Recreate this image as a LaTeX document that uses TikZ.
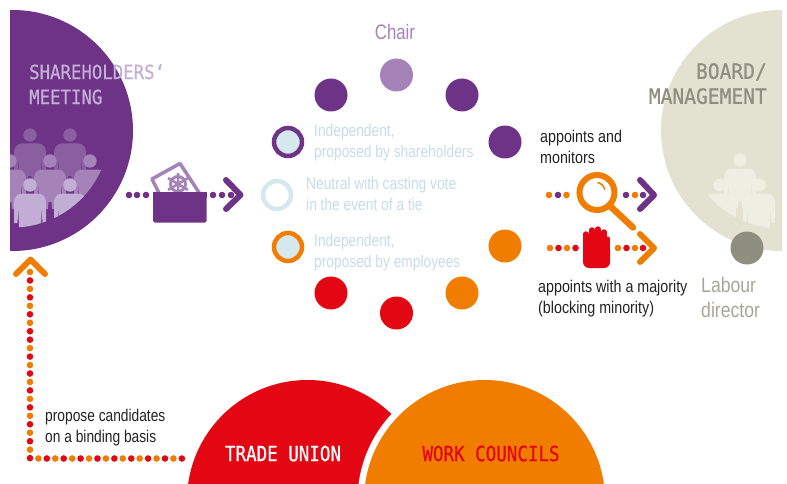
\documentclass[tikz,border=0pt]{standalone}
\usepackage{fontspec}
\setmainfont{Liberation Sans}
\newfontfamily\cond[FakeStretch=0.81]{Liberation Sans}
\newfontfamily\condb[FakeStretch=0.84]{Liberation Sans}
\newfontfamily\condc[FakeStretch=0.80]{Liberation Sans}
\newfontfamily\condd[FakeStretch=0.84]{Liberation Sans}
\newfontfamily\head[FakeStretch=0.89,FakeBold=0.7]{DejaVu Sans Mono}
\newfontfamily\heada[FakeStretch=0.834,FakeBold=0.7]{DejaVu Sans Mono}
\newfontfamily\headb[FakeStretch=0.933,FakeBold=0.7]{DejaVu Sans Mono}
\definecolor{pur}{HTML}{6E3386}
\definecolor{purA}{HTML}{8A5F9F}
\definecolor{purB}{HTML}{A583B8}
\definecolor{purC}{HTML}{C3AFD6}
\definecolor{org}{HTML}{F07D00}
\definecolor{rd}{HTML}{E30613}
\definecolor{bei}{HTML}{E3E1CF}
\definecolor{beiL}{HTML}{EFEEE3}
\definecolor{gry}{HTML}{8F8F80}
\definecolor{gryT}{HTML}{A6A698}
\definecolor{lblue}{HTML}{D5E8EE}
\definecolor{ltxt}{HTML}{C6DCEA}
\definecolor{ink}{HTML}{222222}
\tikzset{
 seat/.style={circle,minimum size=33pt,inner sep=0pt,fill=#1},
 ringseat/.style={circle,minimum size=28pt,inner sep=0pt,draw=#1,line width=4.5pt,fill=lblue},
 chev/.style={draw=#1,line width=6pt,line cap=round,line join=round},
 lab/.style={font=\cond\fontsize{17}{21}\selectfont,align=left,anchor=north west,inner sep=0pt,text=#1},
 labb/.style={font=\condb\fontsize{17}{21}\selectfont,align=left,anchor=north west,inner sep=0pt,text=#1},
 headtxt/.style={font=\head\fontsize{19.5}{25}\selectfont,align=left,anchor=north west,inner sep=0pt,text=#1},
 boardtxt/.style={font=\headb\fontsize{21}{25}\selectfont,align=right,anchor=north east,inner sep=0pt,text=#1},
 bighead/.style={font=\heada\fontsize{21}{25}\selectfont,inner sep=0pt,text=#1},
 big/.style={font=\condc\fontsize{21}{25}\selectfont,align=left,anchor=north west,inner sep=0pt,text=#1},
 bigd/.style={font=\condd\fontsize{21}{25}\selectfont,align=left,anchor=north west,inner sep=0pt,text=#1}
}
\newcommand{\dotat}[3]{\fill[#1] (#2,#3) circle (3.3);}
% person: x, y of head centre, colour
\newcommand{\person}[3]{%
 \fill[#3] (#1,#2) circle (6.7);
 \fill[#3] (#1-16,#2+38) -- (#1-16,#2+17) to[out=90,in=180] (#1-8,#2+8.5) -- (#1+8,#2+8.5) to[out=0,in=90] (#1+16,#2+17) -- (#1+16,#2+38) -- (#1+12.5,#2+38) -- (#1+11.5,#2+22) -- (#1+11,#2+48) -- (#1+2,#2+48) -- (#1+1.5,#2+41) -- (#1-1.5,#2+41) -- (#1-2,#2+48) -- (#1-11,#2+48) -- (#1-11.5,#2+22) -- (#1-12.5,#2+38) -- cycle;}
\begin{document}
\begin{tikzpicture}[x=1pt,y=-1pt]
\useasboundingbox (0,0) rectangle (787,484);
% Shareholders
\begin{scope}
 \clip (10,0) rectangle (787,484);
 \fill[pur] (12.5,130.5) circle (120.5);
 \clip (12.5,130.5) circle (97);
 \person{30}{135}{purA}\person{70}{135}{purA}
 \person{10}{161}{purB}\person{50}{161}{purB}\person{90}{161}{purB}
 \person{30}{185}{purC}\person{70}{185}{purC}
\end{scope}
\node[headtxt=purC] (sh) at (29,64) {SHAREHOLDERS‘\\MEETING};
% Board
\begin{scope}
 \clip (0,0) rectangle (782,484);
 \fill[bei] (781.5,130.5) circle (120.5);
 \clip (781.5,130.5) circle (98);
 \person{740}{160}{beiL}
 \person{720}{185}{beiL}\person{759}{185}{beiL}
\end{scope}
\node[boardtxt=gry] (bm) at (767,63) {BOARD/\\MANAGEMENT};
% seats
\node[seat=purB] (chair) at (396.5,75) {};
\node[big=purB,anchor=center] (chairT) at (395,32) {Chair};
\node[seat=pur] (s1) at (331,95) {};
\node[seat=pur] (s2) at (462,95) {};
\node[seat=pur] (s3) at (505,142) {};
\node[ringseat=pur] (i1) at (288,142) {};
\node[circle,minimum size=28pt,inner sep=0pt,draw=lblue,line width=4.5pt,fill=white] (n1) at (277,195) {};
\node[ringseat=org] (i2) at (288,247) {};
\node[seat=org] (e1) at (505,246) {};
\node[seat=org] (e2) at (462,293) {};
\node[seat=rd] (e3) at (331,293) {};
\node[seat=rd] (e4) at (396.5,313) {};
\node[lab=ltxt] (t1) at (314,124) {Independent,\\proposed by shareholders};
\node[lab=ltxt] (t2) at (306,177) {Neutral with casting vote\\in the event of a tie};
\node[lab=ltxt] (t3) at (314,234) {Independent,\\proposed by employees};
% ballot
\draw[purB,line width=3.5pt,line join=round] (200,194) -- (180,163.5) -- (152,179) -- (159,193);
\draw[purB,line width=3pt] (178,184) circle (7.5);
\draw[purB,line width=2.5pt] (178,173) -- (178,196) (168,178) -- (188,190) (168,190) -- (188,178);
\fill[white] (150,192) rectangle (210,195);
\fill[pur,rounded corners=1.5pt] (153,192) rectangle (206.5,222.5);
\fill[pur] (153,192) rectangle (206.5,198);
\foreach \x in {129,137,146,213,222,231}{\dotat{pur}{\x}{195}}
\draw[chev=pur] (226,180) -- (240.5,195) -- (226,209);
% magnifier
\draw[org,line width=6.5pt,line cap=round] (609,205) -- (633,227.5);
\draw[org,line width=6pt,fill=white] (597,192.5) circle (17.5);
\draw[org,line width=1.5pt] (597.5,182.5) arc (-80:-10:9);
\foreach \c/\x in {org/549,pur/558,org/566.5,pur/626,org/635,pur/643}{\dotat{\c}{\x}{195}}
\draw[chev=pur] (640,180) -- (654,195) -- (640,209);
% hand
\fill[rd,rounded corners=6pt] (583,244) rectangle (610,268);
\begin{scope}[rd,line width=5.4pt,line cap=round]
 \draw (585.8,234) -- (585.8,252);
 \draw (592,230) -- (592,252);
 \draw (598,229) -- (598,252);
 \draw (604,232) -- (604,252);
 \draw[line width=4pt] (608,238.5) -- (608,252);
\end{scope}
\foreach \c/\x in {org/550,rd/558.5,org/567,rd/575.5,org/618,rd/626.5,org/635,rd/643}{\dotat{\c}{\x}{248}}
\draw[chev=org] (640,234) -- (654,248) -- (640,262);
% labour director
\node[seat=gry] (ld) at (747,248) {};
\node[bigd=gryT] (ldT) at (701,277.5) {Labour\\director};
\node[labb=ink] (a1) at (540,130) {appoints and\\monitors};
\node[labb=ink] (a2) at (538,280) {appoints with a majority\\(blocking minority)};
% left dotted arrow
\foreach \c [count=\i from 0] in {org,rd,org,rd,org,rd,org,rd,rd,org,rd,org,rd,org,rd,org,rd,org,rd,org,rd,org,rd}{\dotat{\c}{30}{272+\i*8.46}}
\foreach \c [count=\i from 0] in {org,rd,org,rd,org,rd,org,rd,org,rd,org,rd,org,rd,org,rd,org,rd}{\dotat{\c}{38.4+\i*8.44}{458.5}}
\draw[chev=org] (16,274) -- (30.5,259.5) -- (45,274);
\node[lab=ink] (pc) at (45,409) {propose candidates\\on a binding basis};
% bottom circles
\begin{scope}
 \clip (0,0) rectangle (787,484);
 \fill[rd] (307.5,500.5) circle (120.5);
 \fill[white] (484.5,500.5) circle (127);
 \fill[org] (484.5,500.5) circle (120.5);
\end{scope}
\node[bighead=white] (tu) at (283,453.5) {TRADE UNION};
\node[bighead=rd] (wc) at (491,453.5) {WORK COUNCILS};
\end{tikzpicture}
\end{document}
